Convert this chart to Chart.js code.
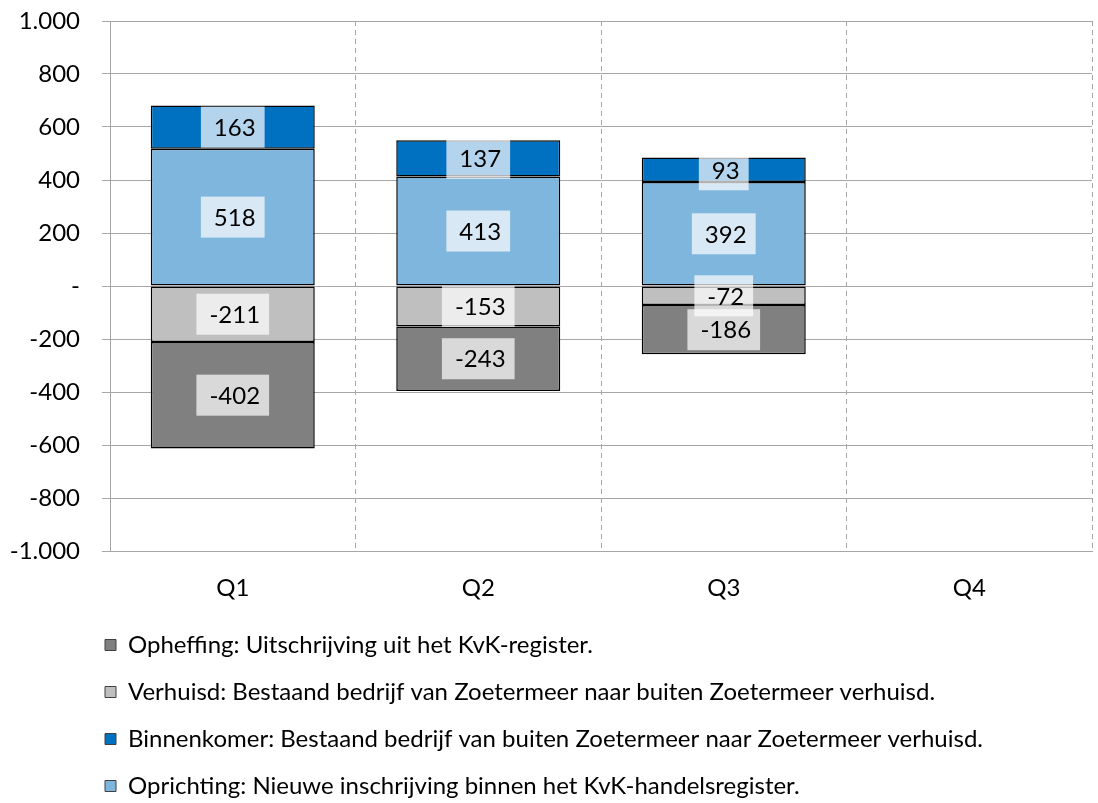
<!DOCTYPE html>
<html>
<head>
	<meta charset="utf-8">
	<title>Bedrijvendynamiek Zoetermeer</title>
	<script src="https://cdn.jsdelivr.net/npm/chart.js@4.4.1/dist/chart.umd.min.js"></script>
	<style>
		html, body { margin: 0; padding: 0; background: #fff; }
		#wrap { width: 1098px; height: 803px; }
	</style>
</head>
<body>
<div id="wrap"><canvas id="grafiek"></canvas></div>

<script>
	// data per kwartaal
	var kwartalen = ["Q1", "Q2", "Q3", "Q4"];
	var opheffing = [-402, -243, -186, null];
	var verhuisd = [-211, -153, -72, null];
	var binnenkomer = [163, 137, 93, null];
	var oprichting = [518, 413, 392, null];

	// y-as
	var yMin = -1000;
	var yMax = 1000;
	var yStap = 200;

	var legendaVolgorde = [
		"Opheffing: Uitschrijving uit het KvK-register.",
		"Verhuisd: Bestaand bedrijf van Zoetermeer naar buiten Zoetermeer verhuisd.",
		"Binnenkomer: Bestaand bedrijf van buiten Zoetermeer naar Zoetermeer verhuisd.",
		"Oprichting: Nieuwe inschrijving binnen het KvK-handelsregister."
	];

	function formatGetal(v) {
		if (v === 0) return "-";
		return String(v).replace(/\B(?=(\d{3})+(?!\d))/g, ".");
	}

	// labels met half doorzichtig wit blokje
	var waardeLabels = {
		id: "waardeLabels",
		afterDatasetsDraw: function (chart) {
			var ctx = chart.ctx;
			ctx.save();
			ctx.font = "24px Lato";
			ctx.textAlign = "center";
			ctx.textBaseline = "middle";
			chart.data.datasets.forEach(function (ds, i) {
				var meta = chart.getDatasetMeta(i);
				meta.data.forEach(function (bar, j) {
					var v = ds.data[j];
					if (v === null || v === undefined) return;
					var tekst = formatGetal(v);
					var w = ctx.measureText(tekst).width + 22;
					var h = 41;
					var y = (bar.y + bar.base) / 2;
					ctx.fillStyle = "rgba(255,255,255,0.7)";
					ctx.fillRect(bar.x - w / 2, y - h / 2, w, h);
					ctx.fillStyle = "#000";
					ctx.fillText(tekst, bar.x + 2, y + 1);
				});
			});
			ctx.restore();
		}
	};

	// legenda links laten beginnen bij de as
	var legendaSchuif = {
		id: "legendaSchuif",
		afterLayout: function (chart) {
			chart.legend.left = 82;
		}
	};

	function maakSet(label, data, kleur) {
		return {
			label: label,
			data: data,
			backgroundColor: kleur,
			borderColor: "#000",
			borderWidth: 1.5,
			borderSkipped: false,
			barPercentage: 0.668,
			categoryPercentage: 1
		};
	}

	Chart.defaults.font.family = "Lato";
	Chart.defaults.color = "#000";

	var canvas = document.getElementById("grafiek").getContext("2d");
	window.grafiek = new Chart(canvas, {
		type: "bar",
		data: {
			labels: kwartalen,
			// volgorde bepaalt de stapeling
			datasets: [
				maakSet(legendaVolgorde[3], oprichting, "#7EB6DD"),
				maakSet(legendaVolgorde[2], binnenkomer, "#0070C0"),
				maakSet(legendaVolgorde[1], verhuisd, "#BFBFBF"),
				maakSet(legendaVolgorde[0], opheffing, "#808080")
			]
		},
		options: {
			responsive: true,
			maintainAspectRatio: false,
			animation: false,
			layout: {
				padding: { left: 0, right: 6, top: 21, bottom: -5 }
			},
			plugins: {
				tooltip: { enabled: false },
				legend: {
					position: "bottom",
					align: "start",
					labels: {
						boxWidth: 11,
						boxHeight: 11,
						padding: 23,
						font: { size: 24 },
						color: "#000",
						sort: function (a, b) {
							return legendaVolgorde.indexOf(a.text) - legendaVolgorde.indexOf(b.text);
						},
						generateLabels: function (chart) {
							var items = Chart.defaults.plugins.legend.labels.generateLabels(chart);
							items.forEach(function (it) {
								it.lineWidth = 1;
								it.strokeStyle = "#404040";
							});
							return items;
						}
					}
				}
			},
			scales: {
				x: {
					stacked: true,
					grid: {
						offset: true,
						color: "#A6A6A6",
						drawTicks: false
					},
					border: { color: "#A6A6A6", dash: [5, 4] },
					ticks: { font: { size: 24 }, padding: 23, color: "#000" },
					afterFit: function (scale) { scale.height = 59; }
				},
				y: {
					stacked: true,
					min: yMin,
					max: yMax,
					grid: { color: "#A6A6A6", tickLength: 8 },
					border: { color: "#A6A6A6" },
					ticks: {
						stepSize: yStap,
						font: { size: 24 },
						padding: 22,
						color: "#000",
						callback: function (v) { return formatGetal(v); }
					},
					afterFit: function (scale) {
						scale.width = 110;
						scale.paddingTop = 0;
						scale.paddingBottom = 0;
					}
				}
			}
		},
		plugins: [waardeLabels, legendaSchuif]
	});
</script>
</body>
</html>
